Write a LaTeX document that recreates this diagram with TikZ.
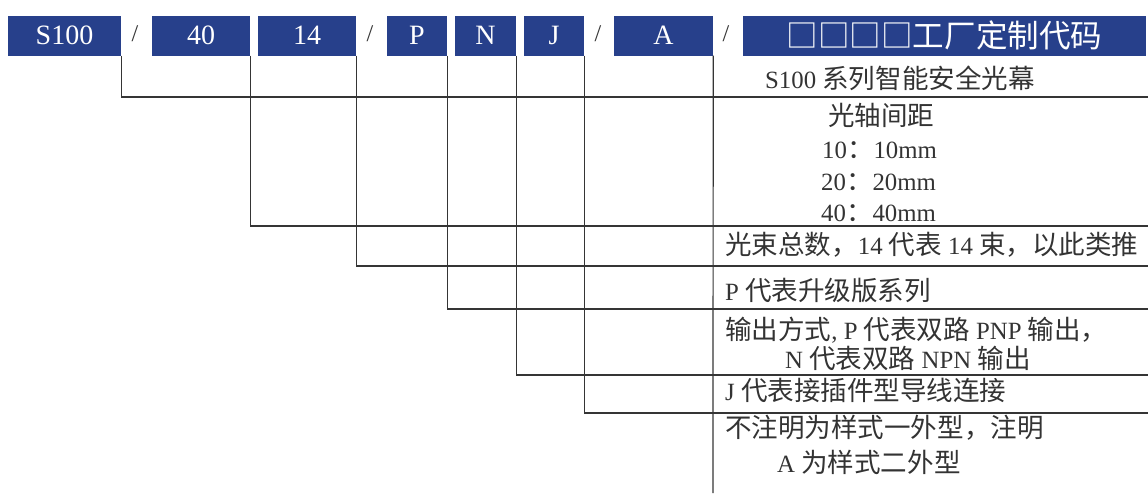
\documentclass[tikz,border=0pt]{standalone}
\usepackage{fontspec}
\setmainfont{Liberation Serif}
\newfontfamily\cjk[Scale=1.07]{Noto Sans CJK SC}
\definecolor{boxblue}{HTML}{27408B}
\definecolor{linegray}{HTML}{353535}
\definecolor{txtgray}{HTML}{333333}
\begin{document}
\begin{tikzpicture}[x=1pt,y=-1pt,
  bluebox/.style={fill=boxblue, text=white, minimum height=39.5pt, inner sep=0pt, font=\fontsize{28}{30}\selectfont},
  slash/.style={text=linegray, font=\fontsize{24}{26}\selectfont, inner sep=0pt},
  desc/.style={anchor=west, inner sep=0pt, text=txtgray, font=\fontsize{24.8}{27}\selectfont},
  conn/.style={draw=linegray, line width=1.2pt}]
\useasboundingbox (0,0) rectangle (1148,493);
% code boxes
\node[bluebox, minimum width=113pt] (s100) at (64.5,35.75) {S100};
\node[bluebox, minimum width=98pt] (b40) at (201,35.75) {40};
\node[bluebox, minimum width=98pt] (b14) at (307,35.75) {14};
\node[bluebox, minimum width=60pt] (bP) at (417,35.75) {P};
\node[bluebox, minimum width=61pt] (bN) at (485.5,35.75) {N};
\node[bluebox, minimum width=60pt] (bJ) at (554,35.75) {J};
\node[bluebox, minimum width=99pt] (bA) at (663.5,35.75) {A};
\node[bluebox, minimum width=403pt, font=\fontsize{29.5}{31}\selectfont] (bF) at (944.5,35.75) {{\cjk □□□□工厂定制代码}};
% slashes
\node[slash] (sl1) at (135,34) {/};
\node[slash] (sl2) at (370,34) {/};
\node[slash] (sl3) at (598,34) {/};
\node[slash] (sl4) at (726,34) {/};
% connector end points
\coordinate (e1) at (1148,97);
\coordinate (e2) at (1148,226);
\coordinate (e3) at (1148,266);
\coordinate (e4) at (1148,309);
\coordinate (e5) at (1148,375);
\coordinate (e6) at (1148,413);
\coordinate (e7) at (713,493);
\draw[conn] (s100.south east) |- (e1);
\draw[conn] (b40.south east) |- (e2);
\draw[conn] (b14.south east) |- (e3);
\draw[conn] (bP.south east) |- (e4);
\draw[conn] (bN.south east) |- (e5);
\draw[conn] (bJ.south east) |- (e6);
\draw[conn] (bA.south east) -- (e7);
% descriptions
\node[desc] (d1) at (765,78) {S100 {\cjk 系列智能安全光幕}};
\node[desc] (d2) at (828,115) {{\cjk 光轴间距}};
\node[desc] (d3) at (822,150) {10{\cjk ：}10mm};
\node[desc] (d4) at (821,182) {20{\cjk ：}20mm};
\node[desc] (d5) at (821,213) {40{\cjk ：}40mm};
\node[desc] (d6) at (725,245) {{\cjk 光束总数，}14 {\cjk 代表} 14 {\cjk 束，以此类推}};
\node[desc] (d7) at (725,290) {P {\cjk 代表升级版系列}};
\node[desc] (d8) at (725,330) {{\cjk 输出方式}, P {\cjk 代表双路} PNP {\cjk 输出，}};
\node[desc] (d9) at (785,358) {N {\cjk 代表双路} NPN {\cjk 输出}};
\node[desc] (d10) at (725,390) {J {\cjk 代表接插件型导线连接}};
\node[desc] (d11) at (725,428) {{\cjk 不注明为样式一外型，注明}};
\node[desc] (d12) at (777,462) {A {\cjk 为样式二外型}};
\end{tikzpicture}
\end{document}
